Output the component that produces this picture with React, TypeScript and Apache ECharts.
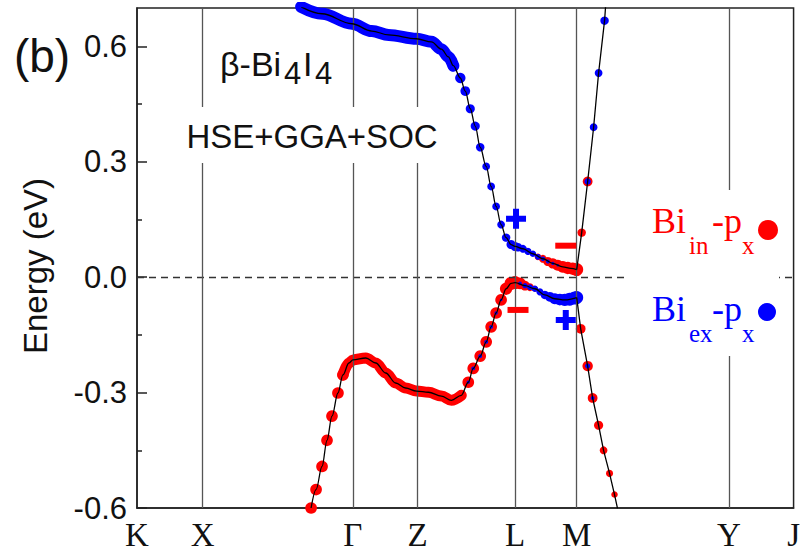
import React, { useEffect, useRef } from 'react';
import * as echarts from 'echarts';

// k-path high-symmetry points (labels and positions along the path)
const kLabels = ['K', 'X', 'Γ', 'Z', 'L', 'M', 'Y', 'J'];
const kPositions = [0, 66, 217, 282, 380, 442, 595, 660];

// Energy axis ticks (eV)
const energyTicks = [-0.6, -0.3, 0, 0.3, 0.6];
const energyMinorTicks = [-0.45, -0.15, 0.15, 0.45];

// Upper band (k, E in eV)
const upperBandToM = [
  [165, 0.703], [186, 0.685], [216, 0.659], [236, 0.640], [253, 0.630], [281, 0.620],
  [296, 0.612], [306, 0.593], [313, 0.573], [318, 0.550], [325, 0.518], [330, 0.484],
  [335, 0.438], [340, 0.393], [345, 0.338], [351, 0.288], [356, 0.236], [361, 0.184],
  [366, 0.137], [371, 0.103], [376, 0.085], [380, 0.080], [388, 0.074], [398, 0.061],
  [408, 0.048], [418, 0.036], [428, 0.027], [436, 0.023], [442, 0.020],
];
const upperBandBeyondM = [
  [442, 0.020], [447, 0.116], [453, 0.249], [459, 0.390], [464, 0.531], [470, 0.667], [471, 0.703],
];

// Lower band (k, E in eV)
const lowerBandToM = [
  [175, -0.600], [180, -0.552], [186, -0.492], [191, -0.424], [196, -0.361], [202, -0.301],
  [207, -0.254], [213, -0.223], [217, -0.215], [230, -0.210], [240, -0.223], [250, -0.249],
  [260, -0.275], [270, -0.288], [281, -0.296], [293, -0.299], [306, -0.309], [316, -0.320],
  [326, -0.307], [333, -0.273], [338, -0.237], [345, -0.205], [351, -0.168], [356, -0.129],
  [361, -0.093], [366, -0.059], [371, -0.030], [376, -0.016], [380, -0.014], [390, -0.022],
  [400, -0.030], [410, -0.046], [420, -0.056], [430, -0.059], [442, -0.053],
];
const lowerBandBeyondM = [
  [442, -0.053], [446, -0.134], [453, -0.231], [458, -0.314], [464, -0.385], [469, -0.450],
  [475, -0.510], [480, -0.565], [483, -0.601],
];

// Projected weights: [k, E, weight]
const biInWeights = [
  [175, -0.600, 0.9], [180, -0.552, 0.9], [186, -0.492, 0.9], [191, -0.424, 0.9], [196, -0.361, 0.9],
  [202, -0.301, 0.9], [207, -0.254, 0.9],
  [333, -0.273, 0.9], [338, -0.237, 0.9], [345, -0.205, 0.9], [351, -0.168, 0.9], [356, -0.129, 0.9],
  [361, -0.093, 0.9], [366, -0.059, 0.9], [371, -0.030, 0.95], [376, -0.016, 1], [380, -0.014, 1],
  [385, -0.016, 0.9], [390, -0.022, 0.75], [395, -0.026, 0.6], [400, -0.030, 0.45],
  [403, 0.053, 0.5], [408, 0.048, 0.6], [413, 0.041, 0.7], [418, 0.036, 0.8], [423, 0.031, 0.85],
  [428, 0.027, 0.9], [433, 0.024, 0.95], [438, 0.022, 0.95], [442, 0.020, 1],
  [447, 0.116, 0.65], [453, 0.249, 0.75],
  [446, -0.134, 0.75], [453, -0.231, 0.8], [458, -0.314, 0.75], [464, -0.385, 0.7],
  [469, -0.450, 0.6], [475, -0.510, 0.55], [480, -0.565, 0.5],
];
const biExWeights = [
  [318, 0.550, 0.85], [325, 0.518, 0.8], [330, 0.484, 0.75], [335, 0.438, 0.7], [340, 0.393, 0.7],
  [345, 0.338, 0.65], [351, 0.288, 0.6], [356, 0.236, 0.6], [361, 0.184, 0.6], [366, 0.137, 0.6],
  [371, 0.103, 0.65], [376, 0.085, 0.7], [380, 0.080, 0.7], [383, 0.078, 0.65], [388, 0.074, 0.6],
  [393, 0.067, 0.55], [398, 0.061, 0.5], [403, 0.053, 0.45], [408, 0.048, 0.35], [413, 0.041, 0.3],
  [418, 0.036, 0.25], [423, 0.031, 0.2],
  [453, 0.249, 0.5], [459, 0.390, 0.6], [464, 0.531, 0.6], [470, 0.667, 0.65],
  [333, -0.273, 0.25], [338, -0.237, 0.3], [345, -0.205, 0.3], [351, -0.168, 0.3], [356, -0.129, 0.3],
  [361, -0.093, 0.25], [366, -0.059, 0.2],
  [385, -0.016, 0.3], [390, -0.022, 0.4], [395, -0.026, 0.45], [400, -0.030, 0.5], [405, -0.038, 0.55],
  [410, -0.046, 0.65], [415, -0.051, 0.75], [420, -0.056, 0.85], [425, -0.058, 0.9], [430, -0.059, 0.95],
  [435, -0.057, 1], [440, -0.054, 1], [442, -0.053, 1],
  [453, -0.231, 0.4], [458, -0.314, 0.3],
];

// Parity labels at L and M
const parityPlus = [[381, 0.152], [431, -0.111]];
const parityMinus = [[431, 0.082], [383, -0.085]];

const RED = '#ff0000';
const BLUE = '#0000ff';
const SANS = '"Liberation Sans", Arial, sans-serif';
const SERIF = '"Liberation Serif", "Times New Roman", serif';
const DOT_SCALE = 13;

const txt = (text: string, x: number, y: number, size: number, family: string, fill: string, align = 'left', extra: any = {}) => ({
  type: 'text',
  x,
  y,
  z: 21,
  ...extra,
  style: {
    text,
    fontSize: size,
    fontFamily: family,
    fill,
    align,
    textAlign: align,
    verticalAlign: 'middle',
    textVerticalAlign: 'middle',
  },
});

export default function App() {
  const ref = useRef<HTMLDivElement>(null);

  useEffect(() => {
    if (!ref.current) return;
    const chart = echarts.init(ref.current, null, { renderer: 'svg' });

    const blackLine = (data: number[][], extra: any = {}) => ({
      type: 'line',
      data,
      smooth: 0.35,
      smoothMonotone: 'x',
      symbol: 'none',
      silent: true,
      lineStyle: { color: '#000', width: 1.3, opacity: 1 },
      z: 5,
      ...extra,
    });

    const fatLine = (data: number[][], color: string, width: number) => ({
      type: 'line',
      data,
      smooth: 0.35,
      smoothMonotone: 'x',
      symbol: 'none',
      silent: true,
      lineStyle: { color, width, cap: 'round', join: 'round', opacity: 1 },
      z: 2,
    });

    const option: any = {
      animation: false,
      backgroundColor: '#fff',
      grid: {
        left: 137, right: 6, top: 8, bottom: 43,
        show: true, borderColor: '#222', borderWidth: 1.5, backgroundColor: 'transparent',
      },
      xAxis: {
        type: 'value',
        min: 0,
        max: 660,
        axisLine: { show: true, onZero: false, lineStyle: { color: '#222', width: 1.5 } },
        axisTick: { show: false },
        splitLine: { show: false },
        axisLabel: {
          customValues: kPositions,
          formatter: (v: number) => {
            const i = kPositions.indexOf(v);
            return i >= 0 ? kLabels[i] : '';
          },
          fontFamily: SERIF,
          fontSize: 33,
          color: '#111',
          margin: 10,
        },
      },
      yAxis: [
        {
          type: 'value',
          min: -0.6,
          max: 0.7,
          axisLine: { show: true, onZero: false, lineStyle: { color: '#222', width: 1.5 } },
          axisTick: { show: true, inside: true, length: 10, customValues: energyTicks, lineStyle: { color: '#222', width: 1.5 } },
          splitLine: { show: false },
          axisLabel: {
            customValues: energyTicks,
            formatter: (v: number) => v.toFixed(1),
            fontFamily: SANS,
            fontSize: 31,
            color: '#111',
            margin: 10,
          },
        },
        {
          type: 'value',
          min: -0.6,
          max: 0.7,
          position: 'left',
          axisLine: { show: false, onZero: false },
          axisTick: { show: true, inside: true, length: 5, customValues: energyMinorTicks, lineStyle: { color: '#222', width: 1.5 } },
          splitLine: { show: false },
          axisLabel: { show: false },
        },
      ],
      series: [
        fatLine(upperBandToM.filter((p) => p[0] <= 318), BLUE, 12),
        fatLine(lowerBandToM.filter((p) => p[0] >= 207 && p[0] <= 326), RED, 11),
        {
          type: 'scatter',
          data: biInWeights,
          symbolSize: (v: number[]) => v[2] * DOT_SCALE,
          itemStyle: { color: RED, opacity: 1 },
          silent: true,
          z: 3,
        },
        {
          type: 'scatter',
          data: biExWeights,
          symbolSize: (v: number[]) => v[2] * DOT_SCALE,
          itemStyle: { color: BLUE, opacity: 1 },
          silent: true,
          z: 4,
        },
        blackLine(upperBandToM, {
          markLine: {
            silent: true,
            symbol: ['none', 'none'],
            label: { show: false },
            lineStyle: { color: '#333', width: 1.3, type: [7, 5] },
            data: [{ yAxis: 0 }],
          },
        }),
        blackLine(upperBandBeyondM, { smooth: false }),
        blackLine(lowerBandToM),
        blackLine(lowerBandBeyondM, {
          smooth: false,
          markLine: {
            silent: true,
            symbol: ['none', 'none'],
            label: { show: false },
            lineStyle: { color: '#555', width: 1.3, type: 'solid' },
            data: kPositions.slice(1, -1).map((k) => ({ xAxis: k })),
          },
        }),
        {
          type: 'scatter',
          data: parityPlus,
          symbol: 'path://M7,0H13V7H20V13H13V20H7V13H0V7H7Z',
          symbolSize: [20, 20],
          itemStyle: { color: BLUE, opacity: 1 },
          silent: true,
          z: 6,
        },
        {
          type: 'scatter',
          data: parityMinus,
          symbol: 'rect',
          symbolSize: [21, 6],
          itemStyle: { color: RED, opacity: 1 },
          silent: true,
          z: 6,
        },
      ],
      graphic: [
        { type: 'rect', z: 20, shape: { x: 183, y: 107, width: 262, height: 56 }, style: { fill: '#fff' } },
        { type: 'rect', z: 20, shape: { x: 628, y: 190, width: 151, height: 166 }, style: { fill: '#fff' } },
        txt('(b)', 42, 56, 46, SANS, '#111', 'center'),
        txt('Energy (eV)', 35, 266, 33, SANS, '#111', 'center', { rotation: Math.PI / 2 }),
        txt('β-Bi', 220, 64, 34, SANS, '#111'),
        txt('4', 284, 73, 31, SANS, '#111'),
        txt('I', 303, 64, 34, SANS, '#111'),
        txt('4', 315, 73, 31, SANS, '#111'),
        txt('HSE+GGA+SOC', 312, 136, 33, SANS, '#111', 'center'),
        txt('Bi', 652, 221, 36, SERIF, RED),
        txt('in', 689, 245, 25, SERIF, RED),
        txt('-p', 712, 221, 36, SERIF, RED),
        txt('x', 742, 245, 25, SERIF, RED),
        { type: 'circle', z: 21, shape: { cx: 768, cy: 230, r: 10 }, style: { fill: RED } },
        txt('Bi', 652, 309, 36, SERIF, BLUE),
        txt('ex', 689, 333, 25, SERIF, BLUE),
        txt('-p', 712, 309, 36, SERIF, BLUE),
        txt('x', 742, 333, 25, SERIF, BLUE),
        { type: 'circle', z: 21, shape: { cx: 767, cy: 312, r: 9 }, style: { fill: BLUE } },
      ],
    };

    chart.setOption(option);
    return () => chart.dispose();
  }, []);

  return (
    <div
      ref={ref}
      style={{ position: 'absolute', left: 0, top: 0, width: 803, height: 551, background: '#fff' }}
    />
  );
}
